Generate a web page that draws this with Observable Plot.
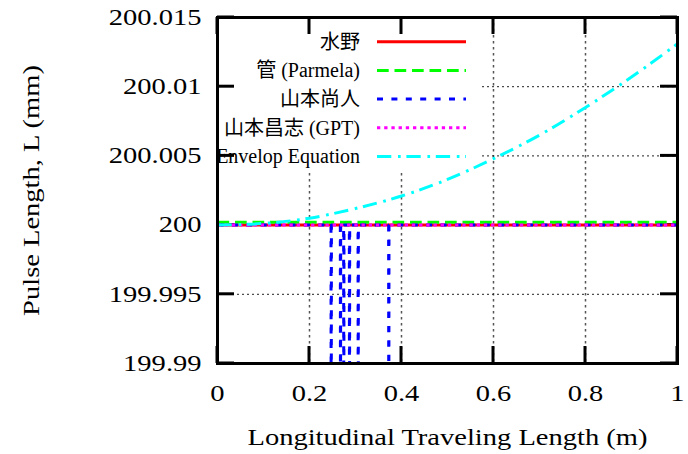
<!DOCTYPE html>
<html>
<head>
<meta charset="utf-8">
<script src="https://cdn.jsdelivr.net/npm/d3@7"></script>
<script src="https://cdn.jsdelivr.net/npm/@observablehq/plot@0.6"></script>
<style>
  html, body { margin: 0; padding: 0; background: white; }
</style>
</head>
<body>
<div id="chart"></div>
<script>
// ---- data ----
const seriesNames = ["水野", "管 (Parmela)", "山本尚人", "山本昌志 (GPT)", "Envelop Equation"];
const seriesColors = ["#ff0000", "#00ff00", "#0000ff", "#ff00ff", "#00ffff"];

const xMizuno = [0, 0.25, 0.5, 0.75, 1];
const yMizuno = [200, 200, 200, 200, 200];

const xKan = [0, 0.25, 0.5, 0.75, 1];
const yKan = [200.0002, 200.0002, 200.0002, 200.0002, 200.0002];

const xNaoto = [0, 0.1, 0.2, 0.2467, 0.2472, 0.2477, 0.267, 0.2674, 0.2678, 0.2742, 0.2746, 0.275,
                0.2866, 0.287, 0.2874, 0.3055, 0.3059, 0.3063, 0.372, 0.3724, 0.3728, 0.5, 0.75, 1];
const yNaoto = [200, 200, 200, 200, 199.98, 200, 200, 199.98, 200, 200, 199.98, 200,
                200, 199.98, 200, 200, 199.98, 200, 200, 199.98, 200, 200, 200, 200];

const xMasashi = [0, 0.25, 0.5, 0.75, 1];
const yMasashi = [200, 200, 200, 200, 200];

const xEnvelope = [0, 0.1, 0.2, 0.3, 0.4, 0.5, 0.6, 0.7, 0.8, 0.9, 1.0];
const yEnvelope = [200, 200.00012, 200.0005, 200.0012, 200.0021, 200.0033, 200.0048, 200.0065, 200.0085, 200.0107, 200.0131];

const xTicks = [0, 0.2, 0.4, 0.6, 0.8, 1];
const xTickLabels = ["0", "0.2", "0.4", "0.6", "0.8", "1"];
const yTicks = [199.99, 199.995, 200, 200.005, 200.01, 200.015];
const yTickLabels = ["199.99", "199.995", "200", "200.005", "200.01", "200.015"];
const xGridTicks = [0.2, 0.4, 0.6, 0.8];
const yGridTicks = [199.995, 200, 200.005, 200.01];

const xLabel = "Longitudinal Traveling Length (m)";
const yLabel = "Pulse Length, L (mm)";

// ---- styles ----
const dashes = ["none", "11.7,5.8", "6,8.4", "3.3,3.9", "14.3,6.7,2.7,5.7"];
const FONT = "'Liberation Serif', 'Times New Roman', 'Noto Sans CJK JP', serif";

const W = 688, H = 454;
const M = {left: 217, right: 11, top: 17, bottom: 91};
const legendBox = {right: 482, bottom: 170};
const legendTextX = 360, legendLineX0 = 377, legendLineX1 = 466;
const legendRowY0 = 41.7, legendRowStep = 28.7;

function seriesLine(xs, ys, i) {
  return Plot.line({length: xs.length}, {
    x: xs, y: ys, stroke: seriesColors[i], strokeWidth: 3,
    strokeDasharray: dashes[i] === "none" ? undefined : dashes[i],
    strokeLinecap: "butt", curve: i === 4 ? "monotone-x" : "linear", clip: true
  });
}

function legendBg(index, scales, values, dims) {
  const g = d3.create("svg:g");
  g.append("rect")
    .attr("x", dims.marginLeft).attr("y", dims.marginTop)
    .attr("width", legendBox.right - dims.marginLeft)
    .attr("height", legendBox.bottom - dims.marginTop)
    .attr("fill", "white");
  return g.node();
}

function legendContent() {
  const g = d3.create("svg:g").attr("class", "legend");
  seriesNames.forEach((name, i) => {
    const y = legendRowY0 + i * legendRowStep;
    g.append("text")
      .attr("x", legendTextX).attr("y", y).attr("dy", "0.34em")
      .attr("text-anchor", "end").attr("font-size", 20)
      .attr("font-family", FONT).attr("fill", "black")
      .text(name);
    const ln = g.append("line")
      .attr("x1", legendLineX0).attr("x2", legendLineX1)
      .attr("y1", y).attr("y2", y)
      .attr("stroke", seriesColors[i]).attr("stroke-width", 3);
    if (dashes[i] !== "none") ln.attr("stroke-dasharray", dashes[i]);
  });
  return g.node();
}

function tickMarks(index, scales, values, dims) {
  const g = d3.create("svg:g").attr("stroke", "black").attr("stroke-width", 3);
  const l = dims.marginLeft, t = dims.marginTop;
  const r = dims.width - dims.marginRight, b = dims.height - dims.marginBottom;
  const L = 17;
  for (const v of xTicks) {
    const x = scales.x(v);
    g.append("line").attr("x1", x).attr("x2", x).attr("y1", b).attr("y2", b - L);
    g.append("line").attr("x1", x).attr("x2", x).attr("y1", t).attr("y2", t + L);
  }
  for (const v of yTicks) {
    const y = scales.y(v);
    g.append("line").attr("x1", l).attr("x2", l + L).attr("y1", y).attr("y2", y);
    g.append("line").attr("x1", r).attr("x2", r - L).attr("y1", y).attr("y2", y);
  }
  return g.node();
}

const chart = Plot.plot({
  width: W, height: H,
  marginLeft: M.left, marginRight: M.right, marginTop: M.top, marginBottom: M.bottom,
  style: {fontFamily: FONT, background: "white", color: "black"},
  x: {domain: [0, 1]},
  y: {domain: [199.99, 200.015]},
  marks: [
    Plot.gridX(xGridTicks, {stroke: "#555", strokeOpacity: 1, strokeWidth: 1.5, strokeDasharray: "2.5,3.5"}),
    Plot.gridY(yGridTicks, {stroke: "#222", strokeOpacity: 1, strokeWidth: 1, strokeDasharray: "2,3"}),
    legendBg,
    legendContent,
    tickMarks,
    seriesLine(xMizuno, yMizuno, 0),
    seriesLine(xKan, yKan, 1),
    seriesLine(xNaoto, yNaoto, 2),
    seriesLine(xMasashi, yMasashi, 3),
    seriesLine(xEnvelope, yEnvelope, 4),
    Plot.frame({stroke: "black", strokeWidth: 3}),
    Plot.axisX(xTicks, {tickSize: 0, tickPadding: 21, fontSize: 23, label: null,
      tickFormat: (d) => xTickLabels[xTicks.indexOf(d)]}),
    Plot.axisY(yTicks, {tickSize: 0, tickPadding: 16, fontSize: 23, label: null,
      tickFormat: (d) => yTickLabels[yTicks.indexOf(d)]}),
    Plot.text([xLabel], {frameAnchor: "bottom", dy: 74, fontSize: 23, lineAnchor: "middle", textAnchor: "middle", fill: "black"}),
    Plot.text([yLabel], {frameAnchor: "left", dx: -186, rotate: -90, fontSize: 23, lineAnchor: "middle", textAnchor: "middle", fill: "black"})
  ]
});

document.getElementById("chart").appendChild(chart);

// widen the serif text as in the reference rendering
d3.select(chart).selectAll("text").each(function () {
  if (this.closest(".legend")) return;
  const len = this.getComputedTextLength();
  if (len > 0) {
    this.setAttribute("textLength", (len * 1.24).toFixed(1));
    this.setAttribute("lengthAdjust", "spacingAndGlyphs");
  }
});
</script>
</body>
</html>
